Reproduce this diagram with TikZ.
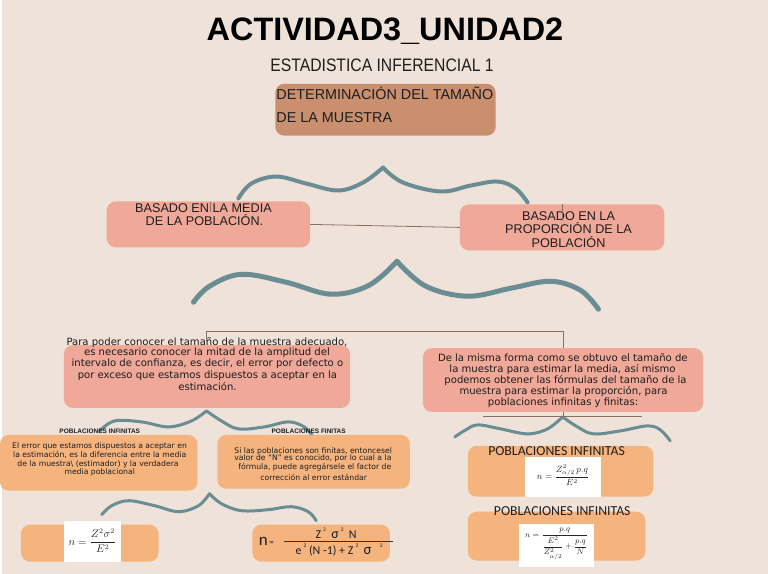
\documentclass[tikz,border=0pt]{standalone}
\usepackage{fontspec}
\setmainfont{DejaVu Sans}
\newfontfamily\arialfont{Liberation Sans}
\newfontfamily\calfont{Carlito}
\definecolor{bgc}{HTML}{EEE2D9}
\definecolor{salm}{HTML}{F0A898}
\definecolor{oran}{HTML}{F5B47E}
\definecolor{brwn}{HTML}{C98F6E}
\definecolor{tealc}{HTML}{6A8D94}
\definecolor{linec}{HTML}{8C6F64}
\definecolor{txt}{HTML}{1E1E1E}
\newcommand\supd{\raisebox{0.55em}{\fontsize{5.5}{6}\selectfont 2}}
\begin{document}
\begin{tikzpicture}[x=1pt,y=-1pt,
  box/.style={rounded corners=9pt, anchor=north west, inner sep=0pt, outer sep=0pt},
  salmbox/.style={box, fill=salm},
  oranbox/.style={box, fill=oran},
  brwnbox/.style={box, fill=brwn},
  whitebox/.style={fill=white, inner sep=0pt, outer sep=0pt, anchor=north west},
  brace/.style={draw=tealc, line width=#1, line cap=round, line join=miter},
  conn/.style={draw=linec, line width=0.8pt},
  tline/.style={anchor=base, inner sep=0pt, text=txt},
  para/.style={tline, font=\fontsize{10.1}{12}\selectfont},
  smalltxt/.style={tline, font=\fontsize{7.7}{9}\selectfont},
  caps/.style={tline, font=\arialfont\fontsize{12.7}{14}\selectfont},
  tinylab/.style={tline, font=\arialfont\bfseries\fontsize{6.5}{7}\selectfont},
  callab/.style={tline, font=\calfont\fontsize{13.8}{15}\selectfont},
  mathtxt/.style={inner sep=0pt, text=black!85}
]
% background
\fill[bgc] (0,0) rectangle (768,575);

% braces
\draw[brace=4pt] plot[smooth,tension=0.6] coordinates {(237,199) (250,184) (275,177) (305,184) (337,191) (362,183) (382,168)};
\draw[brace=4pt] plot[smooth,tension=0.6] coordinates {(382,168) (402,183) (440,192) (470,186) (497,182) (515,189) (527,203)};
\draw[brace=5pt] plot[smooth,tension=0.6] coordinates {(192,303) (208,287) (240,275) (285,283) (330,295) (368,286) (396,262)};
\draw[brace=5pt] plot[smooth,tension=0.6] coordinates {(396,262) (425,287) (467,297) (510,289) (550,282) (580,291) (598,310)};
\draw[brace=3pt] plot[smooth,tension=0.6] coordinates {(98,432) (113,422) (140,423) (167,428) (190,422) (205,412)};
\draw[brace=3pt] plot[smooth,tension=0.6] coordinates {(205,412) (220,422) (237,430) (263,428) (287,423) (303,428) (312,438)};
\draw[brace=3pt] plot[smooth,tension=0.6] coordinates {(454,438) (465,431) (477,426) (500,430) (527,435) (547,430) (562,418)};
\draw[brace=3pt] plot[smooth,tension=0.6] coordinates {(562,418) (577,428) (593,435) (620,432) (647,427) (660,431) (670,442)};
\draw[brace=3pt] plot[smooth,tension=0.6] coordinates {(100,516) (110,507) (127,502) (153,507) (177,513) (197,507) (208,495)};
\draw[brace=3pt] plot[smooth,tension=0.6] coordinates {(208,495) (220,505) (240,512) (267,511) (290,508) (307,513) (315,522)};

% title
\node[tline, font=\arialfont\bfseries\fontsize{32.5}{36}\selectfont, text=black] (title) at (384,41) {ACTIVIDAD3\_UNIDAD2};
\node[tline, font=\arialfont\fontsize{15.75}{18}\selectfont] (subtitle) at (381,72) {\scalebox{1}[1.15]{ESTADISTICA INFERENCIAL 1}};

% main box
\node[brwnbox, minimum width=221pt, minimum height=52pt] (det) at (274,84) {};
\node[tline, anchor=base west, font=\arialfont\fontsize{14.4}{16}\selectfont] (det1) at (275,100) {DETERMINACIÓN DEL TAMAÑO};
\node[tline, anchor=base west, font=\arialfont\fontsize{14.4}{16}\selectfont] (det2) at (275,123) {DE LA MUESTRA};

% level 1 boxes
\node[salmbox, minimum width=204pt, minimum height=46pt] (bL) at (105,202) {};
\node[salmbox, minimum width=205pt, minimum height=46pt] (bR) at (459,205) {};
\node[caps] (bL1) at (202,213) {BASADO EN LA MEDIA};
\node[caps] (bL2) at (203,226) {DE LA POBLACIÓN.};
\node[caps] (bR1) at (568,221) {BASADO EN LA};
\node[caps] (bR2) at (568,234) {PROPORCIÓN DE LA};
\node[caps] (bR3) at (568,248) {POBLACIÓN};
\draw[conn] (bL.east) -- (bR.west);
\coordinate (tkL1) at (209,203); \coordinate (tkL2) at (209,213);
\coordinate (tkR1) at (562,205); \coordinate (tkR2) at (562,222);
\draw[draw=linec, line width=0.5pt] (tkL1) -- (tkL2);
\draw[draw=linec, line width=0.5pt] (tkR1) -- (tkR2);

% paragraph boxes
\node[salmbox, minimum width=287pt, minimum height=63pt] (pL) at (62,346) {};
\node[salmbox, minimum width=281pt, minimum height=64pt] (pR) at (422,349) {};
\node[para] (pL1) at (205.5,346.7) {Para poder conocer el tamaño de la muestra adecuado,};
\node[para] (pL2) at (205.5,356) {es necesario conocer la mitad de la amplitud del};
\node[para] (pL3) at (206,367.7) {intervalo de confianza, es decir, el error por defecto o};
\node[para] (pL4) at (206,379.3) {por exceso que estamos dispuestos a aceptar en la};
\node[para] (pL5) at (206,392) {estimación.};
\node[para] (pR1) at (562.3,362.7) {De la misma forma como se obtuvo el tamaño de};
\node[para] (pR2) at (562,373.3) {la muestra para estimar la media, así mismo};
\node[para] (pR3) at (565,384) {podemos obtener las fórmulas del tamaño de la};
\node[para] (pR4) at (563,395.3) {muestra para estimar la proporción, para};
\node[para] (pR5) at (562.5,406.7) {poblaciones infinitas y finitas:};

% tree connectors
\coordinate (j0) at (205,342);
\coordinate (j1) at (205,332);
\coordinate (j2) at (562.5,332);
\draw[conn] (j0) -- (j1) -- (j2) -- (pR.north);
\coordinate (j3) at (562.5,417);
\coordinate (h1) at (482,417);
\coordinate (h2) at (642,417);
\draw[conn] (pR.south) -- (j3);
\draw[conn] (h1) -- (h2);

% orange boxes left
\node[oranbox, minimum width=198pt, minimum height=56pt] (oL) at (-2,436) {};
\node[oranbox, minimum width=193pt, minimum height=54pt] (oR) at (216,436) {};
\node[tinylab] (labI) at (98,435) {POBLACIONES INFINITAS};
\node[tinylab] (labF) at (307.5,435) {POBLACIONES FINITAS};
\node[smalltxt] (oL1) at (97.8,450) {El error que estamos dispuestos a aceptar en};
\node[smalltxt] (oL2) at (98,458.3) {la estimación, es la diferencia entre la media};
\node[smalltxt] (oL3) at (96.3,467.3) {de la muestra\textbackslash\ (estimador) y la verdadera};
\node[smalltxt] (oL4) at (98,476) {media poblacional};
\node[smalltxt] (oR1) at (312,454.3) {Si las poblaciones son finitas, entoncesel};
\node[smalltxt] (oR2) at (311.7,462) {valor de “N” es conocido, por lo cual a la};
\node[smalltxt] (oR3) at (313.7,471) {fórmula, puede agregársele el factor de};
\node[smalltxt] (oR4) at (312.5,481.3) {corrección al error estándar};

% bottom formula boxes
\node[oranbox, minimum width=138pt, minimum height=37pt] (fL) at (19,526) {};
\node[whitebox, minimum width=57pt, minimum height=41pt] (wL) at (62,522) {};
\node[mathtxt, font=\fontsize{10.5}{11}\selectfont] (mL) at (wL.center) {$n=\displaystyle\frac{Z^2\sigma^2}{E^2}$};

\node[oranbox, minimum width=138pt, minimum height=37pt] (fR) at (251,526) {};
\node[tline, font=\calfont\fontsize{17}{18}\selectfont] (fRn) at (265,547) {n\fontsize{9}{10}\selectfont\,=};
\node[tline, font=\calfont\fontsize{12}{14}\selectfont] (fRnum) at (335,539.5) {Z\,\supd\ \ {\fontsize{14}{14}\selectfont σ}\,\supd\ \ N};
\node[tline, font=\calfont\fontsize{12}{14}\selectfont] (fRden) at (338,556) {e\,\supd\ (N -1) + Z\,\supd\ \ {\fontsize{15}{15}\selectfont σ}\ \ \ \supd};
\coordinate (fb1) at (283,542.7);
\coordinate (fb2) at (392,542.7);
\draw[draw=black!80, line width=0.8pt] (fb1) -- (fb2);

% right formula boxes
\node[oranbox, minimum width=186pt, minimum height=51pt] (iR1) at (467,447) {};
\node[whitebox, minimum width=77pt, minimum height=40pt] (w1) at (524,458) {};
\node[callab] (iR1t) at (556,456.7) {POBLACIONES INFINITAS};
\node[mathtxt, font=\fontsize{9}{10}\selectfont] (m1) at ([yshift=1.5pt]w1.center) {$n=\displaystyle\frac{Z^2_{\alpha/2}\,p.q}{E^2}$};

\node[oranbox, minimum width=178pt, minimum height=49pt] (iR2) at (467,513) {};
\node[whitebox, minimum width=76pt, minimum height=43pt] (w2) at (518,525) {};
\node[callab] (iR2t) at (561.7,516.7) {POBLACIONES INFINITAS};
\node[mathtxt, font=\fontsize{8.3}{9}\selectfont] (m2) at ([yshift=1pt]w2.center) {$n=\displaystyle\frac{p.q}{\displaystyle\frac{E^2}{Z^2_{\alpha/2}}+\frac{p.q}{N}}$};
\end{tikzpicture}
\end{document}
